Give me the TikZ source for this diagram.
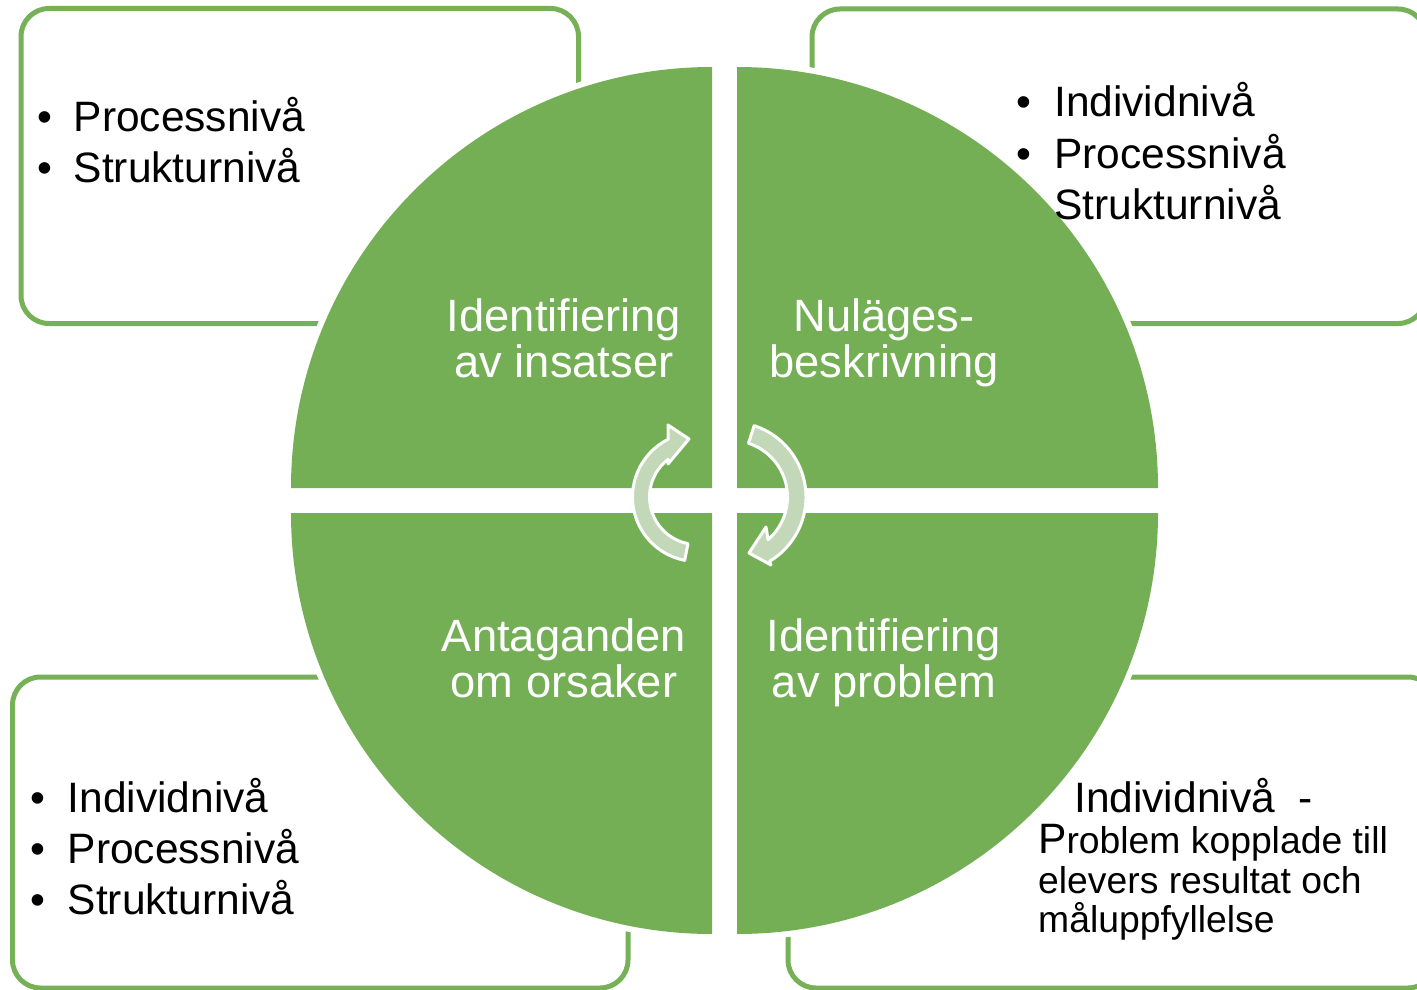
\documentclass[tikz,border=0pt]{standalone}
\usepackage{fontspec}
\setmainfont{Liberation Sans}
\definecolor{qgreen}{HTML}{74AF56}
\definecolor{boxgreen}{HTML}{76B057}
\definecolor{arrowgreen}{HTML}{C2D8B9}
\tikzset{
  boxline/.style={draw=boxgreen, line width=5pt, rounded corners=28pt},
  quadwhite/.style={draw=white, line width=12pt},
  quadfill/.style={fill=qgreen},
  bul/.style={font=\fontsize{42.5}{50}\selectfont, inner sep=0pt, anchor=base},
  btxt/.style={font=\fontsize{42.5}{50}\selectfont, inner sep=0pt, anchor=base west},
  stxt/.style={font=\fontsize{37.3}{44}\selectfont, inner sep=0pt, anchor=base west},
  qtxt/.style={font=\fontsize{45.3}{50}\selectfont, text=white, inner sep=0pt, anchor=base},
  cycarrow/.style={fill=arrowgreen, draw=white, line width=3pt, line join=round}
}
\begin{document}
\begin{tikzpicture}[x=1pt,y=-1pt]
\useasboundingbox (0,0) rectangle (1417,990);
\clip (0,0) rectangle (1417,990);
\fill[white] (0,0) rectangle (1417,990);
% outer boxes
\draw[boxline] (21,8.5) rectangle (578.5,323.5);
\draw[boxline] (812,9) rectangle (1426,323.5);
\draw[boxline] (12.5,677) rectangle (628,988);
\draw[boxline] (788,677) rectangle (1436,988);
% white outlines of quadrants
\draw[quadwhite] (712,488) -- (291,488) arc[start angle=180,end angle=270,radius=421] -- cycle;
\draw[quadwhite] (737,488) -- (737,67) arc[start angle=270,end angle=360,radius=421] -- cycle;
\draw[quadwhite] (737,513) -- (1158,513) arc[start angle=0,end angle=90,radius=421] -- cycle;
\draw[quadwhite] (712,513) -- (712,934) arc[start angle=90,end angle=180,radius=421] -- cycle;
% green quadrants
\fill[quadfill] (712,488) -- (291,488) arc[start angle=180,end angle=270,radius=421] -- cycle;
\fill[quadfill] (737,488) -- (737,67) arc[start angle=270,end angle=360,radius=421] -- cycle;
\fill[quadfill] (737,513) -- (1158,513) arc[start angle=0,end angle=90,radius=421] -- cycle;
\fill[quadfill] (712,513) -- (712,934) arc[start angle=90,end angle=180,radius=421] -- cycle;
% box texts
\node[bul] (tlb1) at (45,131) {•};
\node[btxt] (tlt1) at (73.5,131) {Processnivå};
\node[bul] (tlb2) at (45,182) {•};
\node[btxt] (tlt2) at (73.5,182) {Strukturnivå};
\node[bul] (trb1) at (1024,117) {•};
\node[btxt] (trt1) at (1054,117) {Individnivå};
\node[bul] (trb2) at (1024,168) {•};
\node[btxt] (trt2) at (1054,168) {Processnivå};
\node[btxt] (trt3) at (1054,219) {Strukturnivå};
\node[bul] (blb1) at (38,812) {•};
\node[btxt] (blt1) at (67.5,812) {Individnivå};
\node[bul] (blb2) at (38,863) {•};
\node[btxt] (blt2) at (67.5,863) {Processnivå};
\node[bul] (blb3) at (38,914) {•};
\node[btxt] (blt3) at (67.5,914) {Strukturnivå};
\node[btxt] (brt1) at (1074,812) {Individnivå\ \ -};
\node[stxt] (brt2) at (1038,853) {{\fontsize{42.5}{50}\selectfont P}roblem kopplade till};
\node[stxt] (brt3) at (1038,893) {elevers resultat och};
\node[stxt] (brt4) at (1038,932) {måluppfyllelse};
% quadrant labels
\node[qtxt] (q1a) at (564,331) {Identifiering};
\node[qtxt] (q1b) at (564,377) {av insatser};
\node[qtxt] (q2a) at (884,331) {Nuläges-};
\node[qtxt] (q2b) at (884,377) {beskrivning};
\node[qtxt] (q3a) at (564,651) {Antaganden};
\node[qtxt] (q3b) at (564,697) {om orsaker};
\node[qtxt] (q4a) at (884,651) {Identifiering};
\node[qtxt] (q4b) at (884,697) {av problem};
% cycle arrows
\coordinate (lc) at (697,497);
\coordinate (rc) at (731,497);
\draw[cycarrow] ([shift={(lc)}]101:64.5) arc[start angle=101,end angle=243.5,radius=64.5]
  -- (668,425) -- (689,439) -- (668,464)
  -- ([shift={(lc)}]232.5:47.5) arc[start angle=232.5,end angle=101,radius=47.5] -- cycle;
\draw[cycarrow] ([shift={(rc)}]-72:75) arc[start angle=-72,end angle=59,radius=75]
  -- (771,565) -- (749,553) -- (766,527)
  -- ([shift={(rc)}]49:56.5) arc[start angle=49,end angle=-72,radius=56.5] -- cycle;
\end{tikzpicture}
\end{document}
